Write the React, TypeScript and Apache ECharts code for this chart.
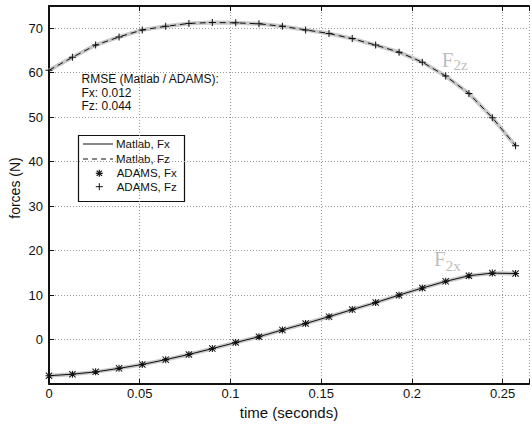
import React, { useEffect, useRef } from "react";
import * as echarts from "echarts";

// time samples (seconds)
const times = [0, 0.0129, 0.0257, 0.0386, 0.0514, 0.0643, 0.0771, 0.09, 0.1029, 0.1157, 0.1286, 0.1414, 0.1543, 0.1671, 0.18, 0.1929, 0.2057, 0.2186, 0.2314, 0.2443, 0.2571];
// vertical force F2z (N)
const fzValues = [60.55, 63.47, 66.21, 68.04, 69.63, 70.43, 71.08, 71.3, 71.21, 71.0, 70.43, 69.63, 68.82, 67.67, 66.21, 64.62, 62.38, 59.25, 55.33, 49.89, 43.58];
// longitudinal force F2x (N)
const fxValues = [-8.12, -7.77, -7.25, -6.46, -5.59, -4.5, -3.33, -2.02, -0.65, 0.65, 2.18, 3.63, 5.16, 6.75, 8.33, 10.0, 11.6, 13.1, 14.36, 14.95, 14.86];

const legendLabels = ["Matlab, Fx", "Matlab, Fz", "ADAMS, Fx", "ADAMS, Fz"];
const rmseLines = ["RMSE (Matlab / ADAMS):", "Fx: 0.012", "Fz: 0.044"];

const FONT = "Liberation Sans, Arial, Helvetica, sans-serif";
const SERIF = "Liberation Serif, Times New Roman, serif";
const INK = "#111";
const BAND = "#c8c8c8";

const PLUS = "path://M3,0H4V3H7V4H4V7H3V4H0V3H3Z";
const STAR =
  "path://M3.4,0H4.6V3.4H8V4.6H4.6V8H3.4V4.6H0V3.4H3.4Z M0.8,0L4,3.2L7.2,0L8,0.8L4.8,4L8,7.2L7.2,8L4,4.8L0.8,8L0,7.2L3.2,4L0,0.8Z";

const pairs = (ys: number[]) => times.map((t, i) => [t, ys[i]]);

export default function App() {
  const ref = useRef<HTMLDivElement>(null);
  useEffect(() => {
    if (!ref.current) return;
    const chart = echarts.init(ref.current, null, { renderer: "svg" });
    const xFmt = (v: number) => {
      const k = v / 0.05;
      if (Math.abs(k - Math.round(k)) > 1e-6) return "";
      return String(Math.round(v * 100) / 100);
    };
    const yFmt = (v: number) => (v < 0 || v % 10 !== 0 ? "" : String(v));
    const lx = 83, lx2 = 113, sx = 99.3;
    const ly = [144, 159, 173.3, 186.7];
    chart.setOption({
      animation: false,
      backgroundColor: "#fff",
      grid: { left: 49, right: 0, top: 6, bottom: 28, containLabel: false },
      xAxis: [
        {
          type: "value",
          min: 0,
          max: 0.2645,
          interval: 0.05,
          position: "bottom",
          axisLine: { show: true, onZero: false, lineStyle: { color: INK, width: 2 } },
          axisTick: { show: true, inside: true, length: 5, lineStyle: { color: INK } },
          axisLabel: { formatter: xFmt, margin: 3, fontSize: 13, color: INK, fontFamily: FONT },
          splitLine: { show: true, lineStyle: { color: "#999", type: [1, 2], width: 1 } },
          name: "time (seconds)",
          nameLocation: "middle",
          nameGap: 11,
          nameTextStyle: { fontSize: 15, color: INK, fontFamily: FONT, verticalAlign: "top" },
        },
        {
          type: "value",
          min: 0,
          max: 0.2645,
          interval: 0.05,
          position: "top",
          axisLine: { show: true, onZero: false, lineStyle: { color: INK, width: 2 } },
          axisTick: { show: true, inside: true, length: 5, lineStyle: { color: INK } },
          axisLabel: { show: false },
          splitLine: { show: false },
        },
      ],
      yAxis: {
        type: "value",
        min: -10,
        max: 75,
        interval: 10,
        axisLine: { show: true, onZero: false, lineStyle: { color: INK, width: 2 } },
        axisTick: { show: true, inside: true, length: 5, lineStyle: { color: INK } },
        axisLabel: { formatter: yFmt, margin: 6, fontSize: 13, color: INK, fontFamily: FONT },
        splitLine: { show: true, lineStyle: { color: "#999", type: [1, 2], width: 1 } },
      },
      series: [
        {
          name: "ADAMS, Fx",
          type: "line",
          z: 2,
          data: pairs(fxValues),
          symbol: STAR,
          symbolSize: 7,
          showAllSymbol: true,
          itemStyle: { color: INK, borderWidth: 0 },
          lineStyle: { color: BAND, width: 4 },
        },
        {
          name: "ADAMS, Fz",
          type: "line",
          z: 2,
          data: pairs(fzValues),
          symbol: PLUS,
          symbolSize: 7,
          showAllSymbol: true,
          itemStyle: { color: INK, borderWidth: 0 },
          lineStyle: { color: BAND, width: 4 },
        },
        {
          name: "Matlab, Fx",
          type: "line",
          z: 3,
          data: pairs(fxValues),
          symbol: "none",
          lineStyle: { color: INK, width: 1 },
        },
        {
          name: "Matlab, Fz",
          type: "line",
          z: 3,
          data: pairs(fzValues),
          symbol: "none",
          lineStyle: { color: INK, width: 1, type: [6, 4] },
        },
      ],
      graphic: [
        {
          type: "text",
          x: 15,
          y: 188,
          rotation: Math.PI / 2,
          style: { text: "forces (N)", align: "center", verticalAlign: "middle", fontSize: 14, fill: INK, fontFamily: FONT },
        },
        ...rmseLines.map((t, i) => ({
          type: "text",
          x: 81.5,
          y: [78.5, 92.5, 105.5][i],
          z: 10,
          style: { text: t, align: "left", verticalAlign: "middle", fontSize: 12, fill: INK, fontFamily: FONT },
        })),
        { type: "text", x: 441.7, y: 59.6, z: 10, style: { text: "F", fontSize: 21, fill: "#bdbdbd", fontFamily: SERIF, verticalAlign: "middle" } },
        { type: "text", x: 453.5, y: 65.4, z: 10, style: { text: "2z", fontSize: 15, fill: "#bdbdbd", fontFamily: SERIF, verticalAlign: "middle" } },
        { type: "text", x: 434, y: 259.3, z: 10, style: { text: "F", fontSize: 21, fill: "#bdbdbd", fontFamily: SERIF, verticalAlign: "middle" } },
        { type: "text", x: 445.8, y: 265.6, z: 10, style: { text: "2x", fontSize: 15, fill: "#bdbdbd", fontFamily: SERIF, verticalAlign: "middle" } },
        {
          type: "group",
          z: 20,
          children: [
            { type: "rect", shape: { x: 78.5, y: 135.5, width: 106, height: 66 }, style: { fill: "#fff", stroke: INK, lineWidth: 1.2 } },
            { type: "line", shape: { x1: lx, y1: ly[0], x2: lx2, y2: ly[0] }, style: { stroke: INK, lineWidth: 1 } },
            { type: "line", shape: { x1: lx, y1: ly[1], x2: lx2, y2: ly[1] }, style: { stroke: INK, lineWidth: 1, lineDash: [5, 4] } },
            { type: "line", shape: { x1: sx - 3.5, y1: ly[2], x2: sx + 3.5, y2: ly[2] }, style: { stroke: INK, lineWidth: 1.2 } },
            { type: "line", shape: { x1: sx, y1: ly[2] - 3.5, x2: sx, y2: ly[2] + 3.5 }, style: { stroke: INK, lineWidth: 1.2 } },
            { type: "line", shape: { x1: sx - 2.6, y1: ly[2] - 2.6, x2: sx + 2.6, y2: ly[2] + 2.6 }, style: { stroke: INK, lineWidth: 1.2 } },
            { type: "line", shape: { x1: sx - 2.6, y1: ly[2] + 2.6, x2: sx + 2.6, y2: ly[2] - 2.6 }, style: { stroke: INK, lineWidth: 1.2 } },
            { type: "line", shape: { x1: sx - 3.5, y1: ly[3], x2: sx + 3.5, y2: ly[3] }, style: { stroke: INK, lineWidth: 1 } },
            { type: "line", shape: { x1: sx, y1: ly[3] - 3.5, x2: sx, y2: ly[3] + 3.5 }, style: { stroke: INK, lineWidth: 1 } },
            ...legendLabels.map((t, i) => ({
              type: "text",
              x: i < 2 ? 116 : 116.7,
              y: ly[i],
              style: { text: t, align: "left", verticalAlign: "middle", fontSize: 11.5, fill: INK, fontFamily: FONT },
            })),
          ],
        },
      ],
    });
    return () => chart.dispose();
  }, []);
  return <div ref={ref} style={{ position: "fixed", left: 0, top: 0, width: 532, height: 425 }} />;
}
